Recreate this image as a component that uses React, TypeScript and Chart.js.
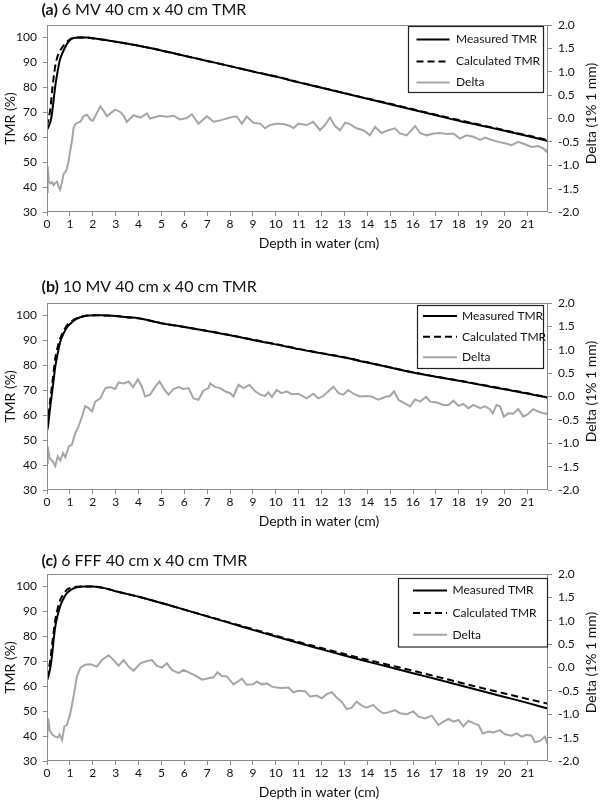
import React, { useEffect, useRef } from "react";
import { Chart, registerables } from "chart.js";

Chart.register(...registerables);

// ---------- tick labels ----------
const xTickValues = [0, 1, 2, 3, 4, 5, 6, 7, 8, 9, 10, 11, 12, 13, 14, 15, 16, 17, 18, 19, 20, 21];
const tmrTickValues = [30, 40, 50, 60, 70, 80, 90, 100];
const deltaTickValues = [-2.0, -1.5, -1.0, -0.5, 0.0, 0.5, 1.0, 1.5, 2.0];

// ---------- panel (a) 6 MV ----------
const aDepth = [0, 0.07, 0.15, 0.22, 0.29, 0.36, 0.44, 0.55, 0.65, 0.8, 0.95, 1.09, 1.24, 1.45, 1.75, 2.0, 2.33, 3, 4, 5, 6, 7, 8, 9, 10, 11, 12, 13, 14, 15, 16, 17, 18, 19, 20, 21, 21.9];
const aMeasured = [63, 64.3, 66.2, 69.6, 75, 80.4, 85.1, 90.5, 93.2, 96.2, 98.4, 99.5, 99.9, 100, 100, 99.7, 99.3, 98.3, 96.7, 94.8, 92.7, 90.6, 88.5, 86.3, 84.3, 82, 79.8, 77.6, 75.4, 73.2, 71, 68.8, 66.6, 64.6, 62.6, 60.5, 58.5];
const aCalculated = [64.5, 67.5, 71.6, 78.4, 83.8, 88.5, 91.8, 94.3, 95.8, 97.6, 98.9, 99.6, 99.9, 100, 100, 99.7, 99.3, 98.3, 96.7, 94.8, 92.7, 90.6, 88.5, 86.4, 84.4, 82.1, 79.9, 77.7, 75.5, 73.4, 71.2, 69.0, 66.9, 64.8, 62.8, 60.7, 58.9];
const aDeltaDepth = [0, 0.03, 0.08, 0.15, 0.22, 0.29, 0.36, 0.44, 0.5, 0.58, 0.66, 0.73, 0.8, 0.87, 0.95, 1.02, 1.1, 1.16, 1.24, 1.31, 1.46, 1.6, 1.75, 1.89, 2.0, 2.11, 2.33, 2.45, 2.62, 2.8, 2.98, 3.2, 3.35, 3.49, 3.78, 4.08, 4.37, 4.5, 4.66, 4.95, 5.24, 5.53, 5.82, 6.11, 6.33, 6.62, 6.99, 7.28, 7.57, 7.86, 8.15, 8.3, 8.52, 8.73, 9.02, 9.32, 9.53, 9.75, 10.04, 10.33, 10.63, 10.77, 10.99, 11.35, 11.64, 11.93, 12.15, 12.37, 12.59, 12.81, 13.03, 13.24, 13.53, 13.83, 14.12, 14.34, 14.63, 14.92, 15.21, 15.43, 15.72, 16.09, 16.31, 16.6, 16.89, 17.18, 17.47, 17.76, 18.05, 18.34, 18.64, 18.93, 19.15, 19.44, 19.73, 20.02, 20.31, 20.6, 20.89, 21.18, 21.47, 21.69, 21.84, 21.9];
const aDelta = [-1.57, -1.03, -1.35, -1.39, -1.36, -1.43, -1.38, -1.35, -1.45, -1.52, -1.35, -1.18, -1.15, -1.07, -0.9, -0.68, -0.45, -0.2, -0.12, -0.1, -0.07, 0.05, 0.08, -0.02, -0.05, 0.05, 0.26, 0.18, 0.05, 0.12, 0.19, 0.14, 0.06, -0.07, 0.07, 0.02, 0.11, 0.0, 0.02, 0.06, 0.04, 0.06, -0.02, 0.01, 0.09, -0.11, 0.05, -0.07, -0.04, 0.0, 0.04, 0.04, -0.11, 0.04, -0.09, -0.11, -0.21, -0.14, -0.11, -0.12, -0.16, -0.21, -0.11, -0.14, -0.07, -0.25, -0.14, 0.02, -0.16, -0.25, -0.09, -0.12, -0.21, -0.25, -0.36, -0.18, -0.31, -0.25, -0.21, -0.32, -0.36, -0.16, -0.31, -0.36, -0.32, -0.31, -0.33, -0.32, -0.43, -0.36, -0.39, -0.46, -0.41, -0.46, -0.5, -0.53, -0.57, -0.5, -0.55, -0.61, -0.59, -0.64, -0.71, -0.62];

// ---------- panel (b) 10 MV ----------
const bDepth = [0, 0.05, 0.1, 0.15, 0.22, 0.29, 0.36, 0.47, 0.58, 0.73, 0.87, 1.09, 1.31, 1.6, 1.89, 2.2, 2.5, 3, 3.5, 4, 5, 6, 7, 8, 9, 10, 11, 12, 13, 14, 15, 16, 17, 18, 19, 20, 21, 21.9];
const bMeasured = [53.5, 56, 60, 63.9, 69, 74, 79.4, 84.8, 89.5, 92.9, 95.2, 97.3, 98.7, 99.7, 100, 100.1, 100, 99.8, 99.3, 98.9, 96.9, 95.4, 93.8, 92.1, 90.2, 88.4, 86.5, 84.8, 83.1, 81.1, 79.1, 77.1, 75.4, 73.8, 72.1, 70.4, 68.7, 67.0];
const bCalculated = [55.5, 58.5, 63, 66.6, 72, 77.4, 82.8, 87.5, 90.8, 93.8, 96, 97.8, 98.9, 99.7, 100, 100.1, 100, 99.8, 99.3, 98.9, 96.9, 95.4, 93.8, 92.1, 90.3, 88.5, 86.6, 84.9, 83.2, 81.2, 79.2, 77.2, 75.5, 73.9, 72.2, 70.5, 68.8, 67.1];
const bDeltaDepth = [0, 0.03, 0.12, 0.26, 0.36, 0.47, 0.58, 0.7, 0.8, 0.95, 1.09, 1.24, 1.38, 1.53, 1.67, 1.82, 1.97, 2.11, 2.33, 2.55, 2.77, 2.98, 3.13, 3.35, 3.57, 3.76, 3.97, 4.15, 4.29, 4.51, 4.73, 4.92, 5.09, 5.31, 5.53, 5.75, 5.97, 6.19, 6.4, 6.62, 6.84, 7.06, 7.13, 7.35, 7.57, 7.79, 8.01, 8.15, 8.37, 8.59, 8.85, 9.1, 9.32, 9.53, 9.68, 9.83, 10.04, 10.26, 10.48, 10.7, 10.99, 11.35, 11.64, 11.86, 12.08, 12.3, 12.52, 12.74, 12.95, 13.17, 13.39, 13.68, 13.9, 14.19, 14.48, 14.77, 14.99, 15.17, 15.36, 15.58, 15.87, 16.09, 16.31, 16.57, 16.75, 17.04, 17.33, 17.55, 17.77, 17.99, 18.2, 18.42, 18.64, 18.93, 19.15, 19.36, 19.48, 19.65, 19.8, 19.97, 20.16, 20.38, 20.6, 20.82, 21.04, 21.25, 21.47, 21.69, 21.9];
const bDelta = [-1.42, -1.07, -1.32, -1.39, -1.49, -1.28, -1.37, -1.21, -1.3, -1.07, -1.03, -0.78, -0.64, -0.43, -0.21, -0.25, -0.32, -0.11, -0.04, 0.18, 0.2, 0.16, 0.3, 0.28, 0.32, 0.2, 0.37, 0.21, 0.0, 0.04, 0.21, 0.32, 0.18, 0.04, 0.16, 0.2, 0.16, 0.18, -0.04, -0.07, 0.13, 0.18, 0.28, 0.2, 0.18, 0.11, 0.07, 0.0, 0.25, 0.18, 0.25, 0.11, 0.04, 0.01, 0.09, -0.01, 0.14, 0.07, 0.11, 0.05, 0.06, -0.04, 0.06, -0.04, 0.01, 0.11, 0.21, 0.07, 0.04, 0.14, 0.06, 0.0, 0.01, 0.0, -0.07, -0.01, 0.01, 0.11, -0.07, -0.13, -0.21, -0.06, -0.11, -0.01, -0.11, -0.13, -0.18, -0.18, -0.09, -0.2, -0.16, -0.25, -0.18, -0.25, -0.21, -0.27, -0.36, -0.18, -0.21, -0.43, -0.36, -0.37, -0.27, -0.43, -0.37, -0.27, -0.32, -0.36, -0.37];

// ---------- panel (c) 6 FFF ----------
const cDepth = [0, 0.07, 0.15, 0.22, 0.29, 0.36, 0.47, 0.58, 0.73, 0.87, 1.09, 1.31, 1.6, 2.0, 2.62, 3, 4, 5, 6, 7, 8, 9, 10, 11, 12, 13, 14, 15, 16, 17, 18, 19, 20, 21, 21.9];
const cMeasured = [62.3, 64.3, 67.7, 72.4, 78.5, 83.8, 88.6, 92.2, 95.3, 97.3, 98.9, 99.7, 100, 100, 99.1, 98.1, 95.9, 93.4, 90.7, 88.0, 85.3, 82.6, 79.9, 77.3, 74.8, 72.3, 69.9, 67.6, 65.2, 62.9, 60.5, 58.1, 55.7, 53.3, 51.0];
const cCalculated = [63.5, 66.4, 71, 76.4, 81.8, 86.5, 91.3, 94.6, 97, 98.7, 99.6, 99.9, 100, 100, 99.1, 98.1, 95.9, 93.4, 90.7, 88.1, 85.5, 82.9, 80.3, 77.7, 75.3, 72.9, 70.6, 68.4, 66.2, 63.9, 61.6, 59.3, 57.1, 54.9, 53.0];
const cDeltaDepth = [0, 0.05, 0.12, 0.22, 0.36, 0.47, 0.55, 0.66, 0.76, 0.87, 1.02, 1.16, 1.31, 1.46, 1.67, 1.89, 2.18, 2.4, 2.69, 2.91, 3.13, 3.35, 3.57, 3.78, 4.08, 4.37, 4.59, 4.8, 5.02, 5.24, 5.46, 5.75, 5.97, 6.26, 6.55, 6.77, 7.06, 7.28, 7.45, 7.64, 7.86, 8.15, 8.37, 8.52, 8.73, 9.02, 9.17, 9.39, 9.61, 9.83, 10.04, 10.26, 10.55, 10.77, 10.99, 11.28, 11.5, 11.79, 12.01, 12.23, 12.45, 12.66, 12.88, 13.1, 13.32, 13.53, 13.75, 13.97, 14.26, 14.48, 14.7, 14.92, 15.21, 15.43, 15.72, 16.02, 16.24, 16.53, 16.82, 17.11, 17.33, 17.55, 17.77, 17.99, 18.2, 18.42, 18.64, 18.86, 19.05, 19.3, 19.51, 19.8, 20.02, 20.31, 20.53, 20.75, 20.96, 21.18, 21.33, 21.55, 21.76, 21.9];
const cDelta = [-1.59, -1.09, -1.34, -1.43, -1.48, -1.5, -1.43, -1.55, -1.26, -1.23, -0.98, -0.62, -0.19, -0.01, 0.06, 0.07, 0.02, 0.16, 0.26, 0.16, 0.04, 0.16, 0.02, -0.07, 0.09, 0.14, 0.16, 0.04, 0.0, 0.09, -0.05, -0.12, -0.05, -0.12, -0.19, -0.26, -0.23, -0.21, -0.1, -0.18, -0.19, -0.36, -0.29, -0.24, -0.37, -0.36, -0.3, -0.36, -0.34, -0.41, -0.43, -0.44, -0.43, -0.53, -0.5, -0.51, -0.62, -0.6, -0.66, -0.57, -0.53, -0.64, -0.73, -0.89, -0.86, -0.73, -0.81, -0.86, -0.8, -0.91, -0.98, -0.96, -0.91, -0.98, -1.0, -0.94, -1.05, -1.09, -1.03, -1.23, -1.16, -1.1, -1.16, -1.12, -1.26, -1.14, -1.19, -1.23, -1.41, -1.37, -1.39, -1.34, -1.43, -1.46, -1.41, -1.48, -1.44, -1.46, -1.6, -1.57, -1.48, -1.66];

// ---------- text ----------
const seriesNames = ["Measured TMR", "Calculated TMR", "Delta"];
const xTitle = "Depth in water (cm)";
const yTitle = "TMR (%)";
const y1Title = "Delta (1% 1 mm)";

const FONT = 'Lato, "Open Sans", "DejaVu Sans", sans-serif';
const AXIS_COLOR = "#8a8a8a";
const DELTA_COLOR = "#a6a6a6";
const DASH = [7, 4];

const pts = (xs: number[], ys: number[]) => xs.map((x, i) => ({ x, y: ys[i] }));

type PanelDef = {
  tag: string;
  title: string;
  depth: number[];
  measured: number[];
  calculated: number[];
  deltaDepth: number[];
  delta: number[];
  top: number;
  titleDy: number;
  legend: { left: number; top: number; right: number; bottom: number; rows: number[]; lineL: number; lineR: number; textX: number };
};

const panels: PanelDef[] = [
  {
    tag: "(a)", title: "6 MV 40 cm x 40 cm TMR",
    depth: aDepth, measured: aMeasured, calculated: aCalculated, deltaDepth: aDeltaDepth, delta: aDelta,
    top: 0, titleDy: -15,
    legend: { left: 408, top: 26, right: 543, bottom: 92, rows: [13.5, 35.5, 56.5], lineL: 8.5, lineR: 41.5, textX: 48 },
  },
  {
    tag: "(b)", title: "10 MV 40 cm x 40 cm TMR",
    depth: bDepth, measured: bMeasured, calculated: bCalculated, deltaDepth: bDeltaDepth, delta: bDelta,
    top: 278, titleDy: -16,
    legend: { left: 417, top: 27, right: 543, bottom: 90, rows: [11, 31.7, 52.3], lineL: 6, lineR: 40, textX: 45 },
  },
  {
    tag: "(c)", title: "6 FFF 40 cm x 40 cm TMR",
    depth: cDepth, measured: cMeasured, calculated: cCalculated, deltaDepth: cDeltaDepth, delta: cDelta,
    top: 549, titleDy: -13,
    legend: { left: 398, top: 29, right: 547, bottom: 97.5, rows: [12.4, 35, 56.7], lineL: 15, lineR: 49, textX: 54.5 },
  },
];

function makeDecor(p: PanelDef) {
  return {
    id: "decor" + p.tag,
    afterDraw(chart: any) {
      const { ctx, chartArea: ca } = chart;
      ctx.save();
      // frame
      ctx.strokeStyle = AXIS_COLOR;
      ctx.lineWidth = 1;
      ctx.strokeRect(Math.round(ca.left) + 0.5, Math.round(ca.top) + 0.5, Math.round(ca.right - ca.left) - 1, Math.round(ca.bottom - ca.top) - 1);

      ctx.fillStyle = "#111";
      ctx.textBaseline = "middle";
      // panel title
      ctx.textAlign = "left";
      ctx.font = `bold 16px ${FONT}`;
      const tx = 41.5;
      const ty = ca.top + p.titleDy;
      ctx.fillText(p.tag, tx, ty);
      const w = ctx.measureText(p.tag + " ").width;
      ctx.font = `16px ${FONT}`;
      ctx.fillText(p.title, tx + w, ty);

      // axis titles
      ctx.font = `14px ${FONT}`;
      ctx.textAlign = "center";
      ctx.fillText(xTitle, 319, ca.bottom + 31);
      const cy = (ca.top + ca.bottom) / 2;
      ctx.save();
      ctx.translate(10, cy);
      ctx.rotate(-Math.PI / 2);
      ctx.fillText(yTitle, 0, 0);
      ctx.restore();
      ctx.save();
      ctx.translate(591, cy - 5);
      ctx.rotate(-Math.PI / 2);
      ctx.fillText(y1Title, 0, 0);
      ctx.restore();

      // legend
      const L = p.legend;
      const top = ca.top + (L.top - 25);
      const h = L.bottom - L.top;
      ctx.fillStyle = "#fff";
      ctx.fillRect(L.left, top, L.right - L.left, h);
      ctx.strokeStyle = "#222";
      ctx.lineWidth = 1.2;
      ctx.strokeRect(L.left + 0.5, top + 0.5, L.right - L.left, h);
      const styles = [
        { color: "#000", dash: [] as number[] },
        { color: "#000", dash: DASH },
        { color: DELTA_COLOR, dash: [] as number[] },
      ];
      ctx.font = `12px ${FONT}`;
      ctx.textAlign = "left";
      seriesNames.forEach((name, i) => {
        const ry = top + L.rows[i];
        ctx.beginPath();
        ctx.setLineDash(styles[i].dash);
        ctx.strokeStyle = styles[i].color;
        ctx.lineWidth = 2;
        ctx.moveTo(L.left + L.lineL, ry);
        ctx.lineTo(L.left + L.lineR, ry);
        ctx.stroke();
        ctx.setLineDash([]);
        ctx.fillStyle = "#111";
        ctx.fillText(name, L.left + L.textX, ry);
      });
      ctx.restore();
    },
  };
}

function Panel({ p }: { p: PanelDef }) {
  const ref = useRef<HTMLCanvasElement>(null);
  useEffect(() => {
    if (!ref.current) return;
    const tickFont = { family: FONT, size: 12 };
    const chart = new Chart(ref.current, {
      type: "line",
      data: {
        datasets: [
          {
            label: seriesNames[0],
            data: pts(p.depth, p.measured),
            borderColor: "#000",
            borderWidth: 2,
            pointRadius: 0,
            cubicInterpolationMode: "monotone",
            yAxisID: "y",
            order: 1,
          },
          {
            label: seriesNames[1],
            data: pts(p.depth, p.calculated),
            borderColor: "#000",
            borderWidth: 2,
            borderDash: DASH,
            pointRadius: 0,
            cubicInterpolationMode: "monotone",
            yAxisID: "y",
            order: 2,
          },
          {
            label: seriesNames[2],
            data: pts(p.deltaDepth, p.delta),
            borderColor: DELTA_COLOR,
            borderWidth: 2,
            pointRadius: 0,
            tension: 0,
            yAxisID: "y1",
            order: 3,
          },
        ],
      },
      options: {
        animation: false,
        responsive: false,
        devicePixelRatio: 1,
        parsing: false,
        normalized: true,
        layout: { padding: { left: 0, right: 0, top: 25, bottom: 2 } },
        plugins: { legend: { display: false }, tooltip: { enabled: false }, title: { display: false } },
        scales: {
          x: {
            type: "linear",
            min: 0,
            max: 21.9,
            afterBuildTicks: (s: any) => { s.ticks = xTickValues.map((v) => ({ value: v })); },
            afterFit: (s: any) => { s.height = 45; },
            ticks: { font: tickFont, color: "#111", padding: 1, maxRotation: 0, autoSkip: false },
            grid: { drawOnChartArea: false, drawTicks: true, tickLength: 4, color: AXIS_COLOR },
            border: { display: false },
          },
          y: {
            type: "linear",
            position: "left",
            min: 30,
            max: 105,
            afterBuildTicks: (s: any) => { s.ticks = tmrTickValues.map((v) => ({ value: v })); },
            afterFit: (s: any) => { s.width = 47; },
            ticks: { font: tickFont, color: "#111", padding: 6 },
            grid: { drawOnChartArea: false, drawTicks: true, tickLength: 4, color: AXIS_COLOR },
            border: { display: false },
          },
          y1: {
            type: "linear",
            position: "right",
            min: -2,
            max: 2,
            afterBuildTicks: (s: any) => { s.ticks = deltaTickValues.map((v) => ({ value: v })); },
            afterFit: (s: any) => { s.width = 52; },
            ticks: { font: tickFont, color: "#111", padding: 6, callback: (v: any) => Number(v).toFixed(1) },
            grid: { drawOnChartArea: false, drawTicks: true, tickLength: 4, color: AXIS_COLOR },
            border: { display: false },
          },
        },
      },
      plugins: [makeDecor(p)],
    } as any);
    return () => chart.destroy();
  }, [p]);
  return (
    <canvas
      ref={ref}
      width={600}
      height={259}
      style={{ position: "absolute", left: 0, top: p.top, width: 600, height: 259 }}
    />
  );
}

export default function App() {
  return (
    <div style={{ position: "absolute", left: 0, top: 0, width: 600, height: 808, background: "#fff" }}>
      {panels.map((p) => (
        <Panel key={p.tag} p={p} />
      ))}
    </div>
  );
}
